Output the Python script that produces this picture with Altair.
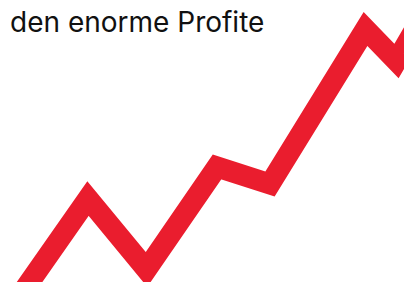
import altair as alt
import pandas as pd

# a rising zig-zag "profit" line (x = time, y = profit)
time = [3, 88, 146.5, 217, 270, 365.5, 396.5, 425]
profit = [-30, 91.5, 20.5, 123, 106, 261, 229, 278]
caption = "den enorme Profite"

df = pd.DataFrame({"t": time, "p": profit, "order": list(range(len(time)))})

line = alt.Chart(df).mark_line(
    color="#EA1D2E",
    strokeWidth=21,
    strokeJoin="miter",
    strokeMiterLimit=10,
    strokeCap="butt",
    clip=True,
).encode(
    x=alt.X("t:Q", scale=alt.Scale(domain=[8, 404], nice=False, zero=False), axis=None),
    y=alt.Y("p:Q", scale=alt.Scale(domain=[8, 282], nice=False, zero=False), axis=None),
    order="order:O",
)

text = alt.Chart(pd.DataFrame({"label": [caption]})).mark_text(
    font="Inter",
    fontSize=28,
    align="left",
    baseline="top",
    color="#111111",
).encode(
    x=alt.value(2),
    y=alt.value(2),
    text="label:N",
)

chart = alt.layer(line, text).properties(
    width=396,
    height=274,
    padding=0,
    autosize=alt.AutoSizeParams(type="none"),
    background="white",
).configure_view(stroke=None)

chart.save("out.html", embed_options={"renderer": "svg", "actions": False})
